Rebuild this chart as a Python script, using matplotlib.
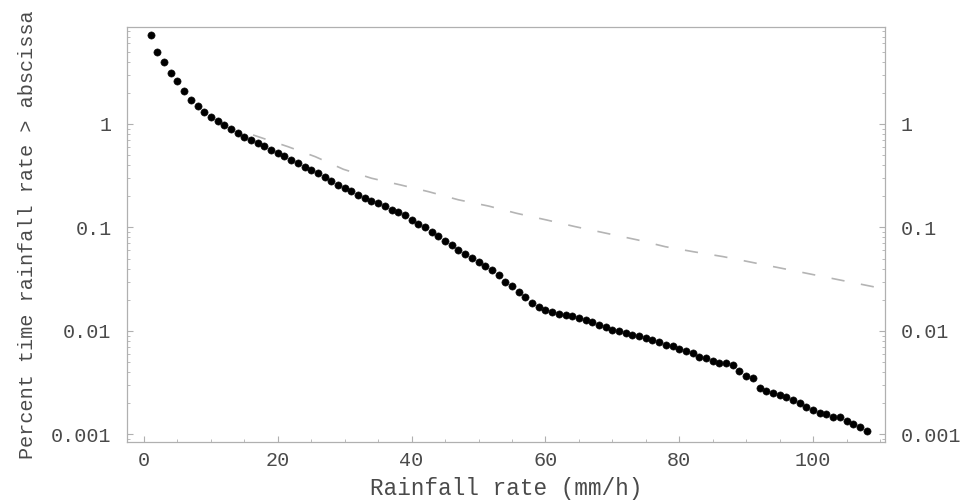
import matplotlib
matplotlib.use("Agg")
import matplotlib.pyplot as plt
from matplotlib.ticker import FixedLocator, FixedFormatter, MultipleLocator, LogLocator, NullFormatter

# Measured exceedance distribution: rainfall rate (mm/h) vs percent of time exceeded
rain_rate = list(range(1, 109))
percent_exceeded = [
    7.29, 4.96, 3.97, 3.08, 2.60, 2.08, 1.71, 1.48, 1.31, 1.18,
    1.07, 0.978, 0.885, 0.818, 0.752, 0.700, 0.648, 0.607, 0.561, 0.525,
    0.485, 0.444, 0.415, 0.384, 0.360, 0.333, 0.308, 0.281, 0.260, 0.241,
    0.225, 0.208, 0.193, 0.182, 0.171, 0.160, 0.149, 0.141, 0.131, 0.119,
    0.108, 0.100, 0.0905, 0.0818, 0.0741, 0.0670, 0.0606, 0.0548, 0.0502, 0.0464,
    0.0420, 0.0388, 0.0347, 0.0297, 0.0269, 0.0238, 0.0215, 0.0188, 0.0172, 0.0161,
    0.0151, 0.0146, 0.0143, 0.0138, 0.0134, 0.0127, 0.0121, 0.0114, 0.0108, 0.0103,
    0.00988, 0.00946, 0.00910, 0.00885, 0.00850, 0.00809, 0.00774, 0.00733, 0.00708, 0.00662,
    0.00634, 0.00609, 0.00555, 0.00548, 0.00507, 0.00491, 0.00488, 0.00469, 0.00406, 0.00363,
    0.00348, 0.00284, 0.00263, 0.00250, 0.00242, 0.00232, 0.00214, 0.00200, 0.00184, 0.00172,
    0.00160, 0.00156, 0.00147, 0.00148, 0.00136, 0.00126, 0.00118, 0.00108,
]

# Model curve (dashed)
model_rate = [16.3, 21.5, 25.6, 29.8, 34.0, 38.3, 42.5, 47.0, 51.5, 55.7,
              60.2, 64.4, 73.8, 77.9, 82.1, 86.6, 96.6, 110.6]
model_percent = [0.783, 0.604, 0.483, 0.365, 0.299, 0.258, 0.222, 0.185, 0.161, 0.137,
                 0.118, 0.102, 0.0757, 0.0652, 0.0583, 0.0522, 0.0388, 0.0255]

x_ticks = [0, 20, 40, 60, 80, 100]
y_ticks = [1, 0.1, 0.01, 0.001]
y_tick_labels = ["1", "0.1", "0.01", "0.001"]

plt.rcParams["font.family"] = ["Liberation Mono", "DejaVu Sans Mono"]
plt.rcParams["lines.scale_dashes"] = False

text_color = "#4a4a4a"
frame_color = "#b0b0b0"

fig = plt.figure(figsize=(9.68, 5.01), dpi=100)
ax = fig.add_axes([0.1312, 0.1184, 0.7831, 0.8277])

ax.plot(model_rate, model_percent, color="#b4b4b4", lw=1.2, dashes=(9.5, 12))
ax.plot(rain_rate, percent_exceeded, "o", color="black", ms=5.2, mec="#111111", mew=0.4)

ax.set_yscale("log")
ax.set_xlim(-2.54, 110.76)
ax.set_ylim(0.000851, 8.65)

ax.xaxis.set_major_locator(FixedLocator(x_ticks))
ax.xaxis.set_minor_locator(MultipleLocator(5))
ax.yaxis.set_major_locator(FixedLocator(y_ticks))
ax.yaxis.set_major_formatter(FixedFormatter(y_tick_labels))
ax.yaxis.set_minor_locator(LogLocator(base=10, subs=range(2, 10)))
ax.yaxis.set_minor_formatter(NullFormatter())

for side in ["left", "right", "bottom", "top"]:
    ax.spines[side].set_color(frame_color)
    ax.spines[side].set_linewidth(0.9)

ax.tick_params(axis="both", which="both", direction="in", color=frame_color,
               labelcolor=text_color, labelsize=14.5)
ax.tick_params(axis="both", which="major", length=4, width=0.8)
ax.tick_params(axis="both", which="minor", length=2, width=0.6)
ax.tick_params(axis="y", which="both", left=True, right=True, labelleft=True,
               labelright=True, pad=11)
ax.tick_params(axis="x", which="both", top=False, pad=7)

ax.set_xlabel("Rainfall rate (mm/h)", fontsize=16.3, color=text_color, labelpad=5)
ax.set_ylabel("Percent time rainfall rate > abscissa", fontsize=14.5,
              color=text_color, labelpad=10)

fig.savefig("out.png", dpi=100, facecolor="white")
